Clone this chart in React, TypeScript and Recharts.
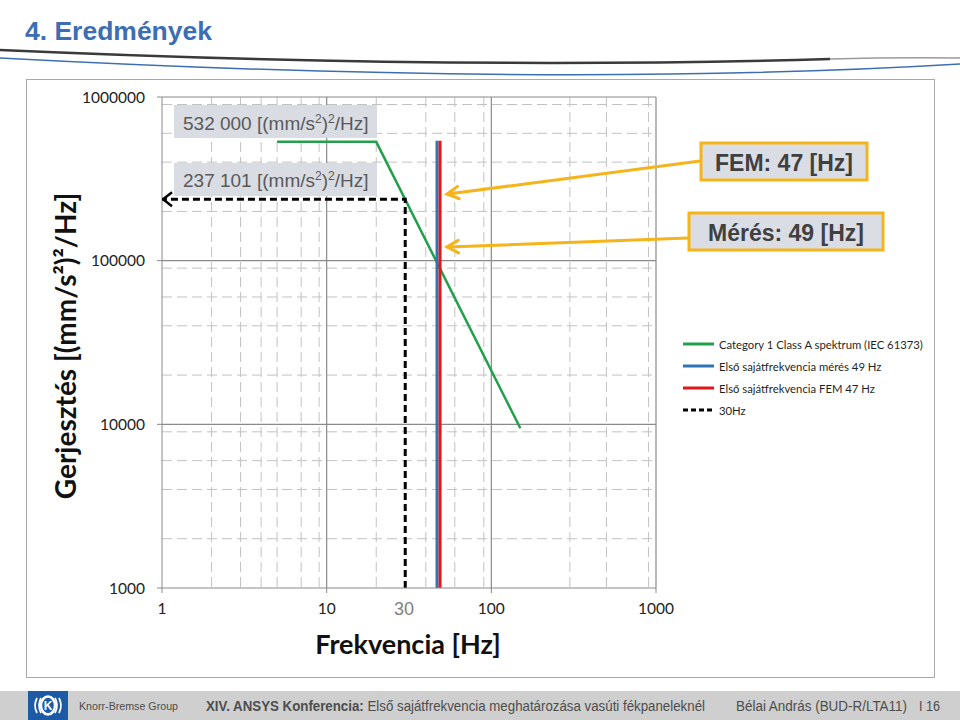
import { CartesianGrid, Legend, Line, LineChart, XAxis, YAxis } from "recharts";

// axes (log-log)
const freqTicks = [1, 10, 100, 1000];
const asdTicks = [1000, 10000, 100000, 1000000];
const freqMinor = [2, 3, 4, 5, 6, 7, 8, 9, 20, 30, 40, 50, 60, 70, 80, 90, 200, 300, 400, 500, 600, 700, 800, 900];
const asdMinor = [
  2000, 3000, 4000, 5000, 6000, 7000, 8000, 9000,
  20000, 30000, 40000, 50000, 60000, 70000, 80000, 90000,
  200000, 300000, 400000, 500000, 600000, 700000, 800000, 900000,
];
const freqMajorGrid = [10, 100, 1000];
const asdMajorGrid = [10000, 100000, 1000000];

// IEC 61373 Cat 1 Class A spectrum
const spectrumFreq = [5, 20, 150];
const spectrumAsd = [532000, 532000, 9458];

// 30 Hz cut (vertical, then back to the y axis)
const cutFreq = [30, 30, 1];
const cutAsd = [1000, 237101, 237101];

// natural frequency markers
const measuredFreq = [46.8, 46.8];
const measuredAsd = [1000, 540000];
const femFreq = [48.8, 48.8];
const femAsd = [1000, 540000];

const legendNames = [
  "Category 1 Class A spektrum (IEC 61373)",
  "Első sajátfrekvencia mérés 49 Hz",
  "Első sajátfrekvencia FEM 47 Hz",
  "30Hz",
];
const legendColors = ["#22a04b", "#2e75b6", "#e3161c", "#000000"];
const legendDash = ["", "", "", "5 3"];

const toRows = (f: number[], v: number[]) => f.map((x, i) => ({ f: x, v: v[i] }));

const CutArrow = (props: any) => {
  const { cx, cy, index } = props;
  if (index !== cutFreq.length - 1 || cx == null) return <g key={`cut-${index}`} />;
  return (
    <path
      key={`cut-${index}`}
      d={`M${cx + 10},${cy - 7} L${cx + 1},${cy} L${cx + 10},${cy + 7}`}
      fill="none"
      stroke="#000"
      strokeWidth={2.5}
      strokeDasharray="none"
    />
  );
};

const LegendBox = () => (
  <div style={{ fontFamily: "Lato, sans-serif", fontSize: 11.3, color: "#1f1f1f" }}>
    {legendNames.map((name, i) => (
      <div key={name} style={{ display: "flex", alignItems: "center", height: 22 }}>
        <svg width={32} height={6} style={{ marginRight: 4 }}>
          <line x1={0} y1={3} x2={31} y2={3} stroke={legendColors[i]} strokeWidth={3}
            strokeDasharray={legendDash[i] || undefined} />
        </svg>
        <span>{name}</span>
      </div>
    ))}
  </div>
);

function arrow(x1: number, y1: number, x2: number, y2: number) {
  const a = Math.atan2(y1 - y2, x1 - x2);
  const l = 13;
  const w = 0.5;
  const p1 = `${x2 + l * Math.cos(a + w)},${y2 + l * Math.sin(a + w)}`;
  const p2 = `${x2 + l * Math.cos(a - w)},${y2 + l * Math.sin(a - w)}`;
  return (
    <g stroke="#f4b41a" strokeWidth={3} fill="none" strokeLinecap="round">
      <line x1={x1} y1={y1} x2={x2 + 1} y2={y2} />
      <polyline points={`${p1} ${x2},${y2} ${p2}`} />
    </g>
  );
}

const sup = (t: string) => (
  <tspan baselineShift="super" fontSize={12}>{t}</tspan>
);

export default function App() {
  const tickStyle = { fontFamily: "Lato, sans-serif", fontSize: 15.5, fill: "#222" };
  return (
    <div style={{ position: "absolute", left: 0, top: 0, width: 960, height: 720, background: "#fff" }}>
      <LineChart width={960} height={720} margin={{ top: 97, right: 304, bottom: 92, left: 82 }}>
        <CartesianGrid stroke="#c2c2c2" strokeDasharray="10 5" verticalValues={freqMinor} horizontalValues={asdMinor} />
        <CartesianGrid stroke="#8a8a8a" strokeWidth={1.2} verticalValues={freqMajorGrid} horizontalValues={asdMajorGrid} />
        <XAxis
          type="number"
          dataKey="f"
          scale="log"
          domain={[1, 1000]}
          ticks={freqTicks}
          allowDataOverflow
          height={40}
          tick={tickStyle}
          tickSize={5}
          tickMargin={10}
          stroke="#8a8a8a"
        />
        <YAxis
          type="number"
          dataKey="v"
          scale="log"
          domain={[1000, 1000000]}
          ticks={asdTicks}
          allowDataOverflow
          width={80}
          tick={tickStyle}
          tickSize={5}
          tickMargin={12}
          stroke="#8a8a8a"
        />
        <Line data={toRows(spectrumFreq, spectrumAsd)} dataKey="v" type="linear" stroke="#22a04b"
          strokeWidth={2.5} dot={false} isAnimationActive={false} name={legendNames[0]} />
        <Line data={toRows(cutFreq, cutAsd)} dataKey="v" type="linear" stroke="#000"
          strokeWidth={3} strokeDasharray="7 4" dot={CutArrow} isAnimationActive={false} name={legendNames[3]} />
        <Line data={toRows(measuredFreq, measuredAsd)} dataKey="v" type="linear" stroke="#2e75b6"
          strokeWidth={3} dot={false} isAnimationActive={false} name={legendNames[1]} />
        <Line data={toRows(femFreq, femAsd)} dataKey="v" type="linear" stroke="#e3161c"
          strokeWidth={3} dot={false} isAnimationActive={false} name={legendNames[2]} />
        <Legend layout="vertical" align="center" verticalAlign="middle" content={LegendBox}
          wrapperStyle={{ left: 683, top: 333, width: 260, height: 90 }} />
      </LineChart>

      <svg width={960} height={720} style={{ position: "absolute", left: 0, top: 0, pointerEvents: "none" }}>
        {/* header */}
        <text x={25} y={40} fontFamily="Liberation Sans, Arial, sans-serif" fontWeight="bold" fontSize={25}
          fill="#3b6eb4" textLength={187} lengthAdjust="spacingAndGlyphs">4. Eredmények</text>
        <path d="M0,50 Q450,70 830,59" fill="none" stroke="#3a3a3a" strokeWidth={2.5} />
        <path d="M830,59 Q900,57 960,58" fill="none" stroke="#9a9a9a" strokeWidth={1.5} />
        <path d="M0,58 Q560,88 960,64" fill="none" stroke="#3d6fb0" strokeWidth={1.5} />
        <rect x={26.5} y={79.5} width={908} height={598} fill="none" stroke="#a8a8a8" />

        {/* value boxes */}
        <rect x={174} y={105} width={203} height={33} fill="#d9dce3" />
        <text x={183} y={130} fontFamily="Liberation Sans, Arial, sans-serif" fontSize={19} fill="#595959">
          532 000 [(mm/s{sup("2")}){sup("2")}/Hz]
        </text>
        <rect x={174} y={163} width={203} height={33} fill="#d9dce3" />
        <text x={183} y={187} fontFamily="Liberation Sans, Arial, sans-serif" fontSize={19} fill="#595959">
          237 101 [(mm/s{sup("2")}){sup("2")}/Hz]
        </text>

        {arrow(700, 161, 447, 194)}
        {arrow(688, 238, 447, 247)}
        <rect x={701} y={143} width={166} height={37} fill="#dadde4" stroke="#f4b41a" strokeWidth={3} />
        <text x={784} y={171} textAnchor="middle" fontFamily="Liberation Sans, Arial, sans-serif" fontWeight="bold"
          fontSize={23} fill="#404040">FEM: 47 [Hz]</text>
        <rect x={689} y={213} width={194} height={37} fill="#dadde4" stroke="#f4b41a" strokeWidth={3} />
        <text x={786} y={241} textAnchor="middle" fontFamily="Liberation Sans, Arial, sans-serif" fontWeight="bold"
          fontSize={23} fill="#404040">Mérés: 49 [Hz]</text>

        {/* axis titles */}
        <text transform="translate(65,346) rotate(-90)" textAnchor="middle" dominantBaseline="central"
          fontFamily="Lato, sans-serif" fontWeight="bold" fontSize={28} fill="#111">
          Gerjesztés [(mm/s²)²/Hz]
        </text>
        <text x={408} y={643} textAnchor="middle" dominantBaseline="central" fontFamily="Lato, sans-serif"
          fontWeight="bold" fontSize={27} fill="#111">Frekvencia [Hz]</text>
        <text x={404} y={609} textAnchor="middle" dominantBaseline="central"
          fontFamily="Liberation Sans, Arial, sans-serif" fontSize={18} fill="#7f7f7f">30</text>

        {/* footer */}
        <rect x={0} y={691} width={960} height={29} fill="#cfcfcf" />
        <rect x={28} y={691} width={40} height={29} fill="#1d5aa5" />
        <ellipse cx={48} cy={705.5} rx={7} ry={9} fill="none" stroke="#fff" strokeWidth={2.5} />
        <text x={48} y={710} textAnchor="middle" fontFamily="Liberation Sans, Arial, sans-serif" fontWeight="bold"
          fontSize={12} fill="#fff">K</text>
        <path d="M37,698 Q33,705.5 37,713 M41,698 Q37,705.5 41,713 M55,698 Q59,705.5 55,713 M59,698 Q63,705.5 59,713"
          fill="none" stroke="#fff" strokeWidth={1.8} />
        <g fontFamily="Liberation Sans, Arial, sans-serif" fill="#4d4d4d">
          <text x={79} y={710} fontSize={11} textLength={99} lengthAdjust="spacingAndGlyphs">Knorr-Bremse Group</text>
          <text x={206} y={711} fontSize={14} textLength={499} lengthAdjust="spacingAndGlyphs">
            <tspan fontWeight="bold">XIV. ANSYS Konferencia:</tspan> Első sajátfrekvencia meghatározása vasúti fékpaneleknél
          </text>
          <text x={736} y={711} fontSize={14} textLength={171} lengthAdjust="spacingAndGlyphs">Bélai András (BUD-R/LTA11)</text>
          <text x={919} y={711} fontSize={14} textLength={21} lengthAdjust="spacingAndGlyphs">I 16</text>
        </g>
      </svg>
    </div>
  );
}
